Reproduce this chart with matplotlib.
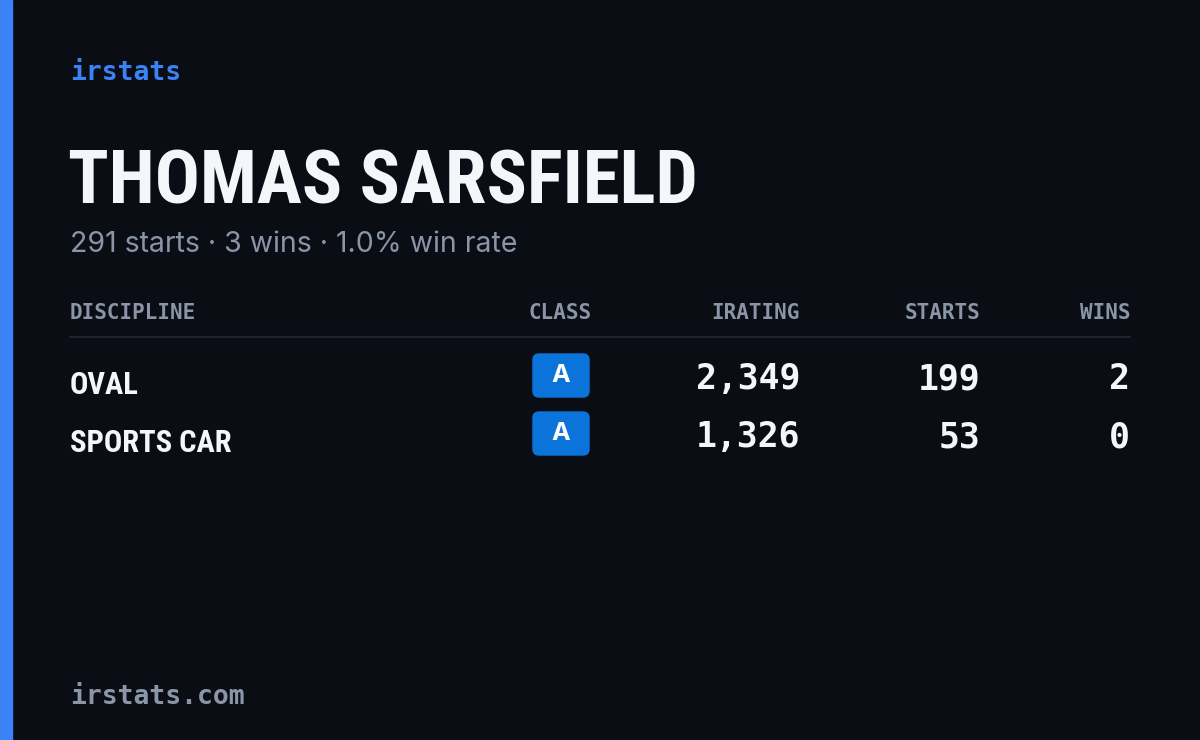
import matplotlib.pyplot as plt
from matplotlib.patches import FancyBboxPatch, Rectangle

driver = "THOMAS SARSFIELD"
total_starts = 291
total_wins = 3
win_rate = 1.0

disciplines = ["OVAL", "SPORTS CAR"]
classes = ["A", "A"]
iratings = [2349, 1326]
starts = [199, 53]
wins = [2, 0]

W, H = 1200, 740
fig = plt.figure(figsize=(12, 7.4), dpi=100)
fig.patch.set_facecolor("#0a0d14")
ax = fig.add_axes([0, 0, 1, 1])
ax.set_xlim(0, W)
ax.set_ylim(H, 0)
ax.axis("off")

ax.add_patch(Rectangle((0, 0), 12, H, color="#3b82f6"))

mono = ["DejaVu Sans Mono"]
narrow = ["Liberation Sans Narrow", "Roboto Condensed", "Roboto"]

ax.text(70, 73, "irstats", color="#3b82f6", fontsize=19, family=mono,
        weight="bold", va="center")
ax.text(68, 184, driver, color="#f5f6fa", fontsize=54, family=narrow,
        weight="bold", va="center")
ax.text(70, 245, f"{total_starts} starts · {total_wins} wins · {win_rate:.1f}% win rate",
        color="#8b95a8", fontsize=20.5, family=["Inter", "DejaVu Sans"], va="center")

hcol = "#8b95a8"
hkw = dict(color=hcol, fontsize=15, family=mono, weight="bold", va="center")
ax.text(70, 313, "DISCIPLINE", **hkw)
ax.text(560, 313, "CLASS", ha="center", **hkw)
ax.text(800, 313, "IRATING", ha="right", **hkw)
ax.text(980, 313, "STARTS", ha="right", **hkw)
ax.text(1130, 313, "WINS", ha="right", **hkw)
ax.plot([70, 1130], [337, 337], color="#1c2230", lw=1.5)

nkw = dict(color="#f5f6fa", fontsize=25, family=mono, weight="bold",
           va="center", ha="right")
for i, d in enumerate(disciplines):
    y = 383 + i * 58
    ax.text(70, y + 2, d, color="#f5f6fa", fontsize=22, family=narrow,
            weight="bold", va="center")
    ax.add_patch(FancyBboxPatch((533, y - 29), 56, 43,
                                boxstyle="round,pad=0,rounding_size=6",
                                color="#0b74da"))
    ax.text(561, y - 8, classes[i], color="white", fontsize=18, weight="bold",
            family=["Inter", "DejaVu Sans"], va="center", ha="center")
    ax.text(800, y - 4, f"{iratings[i]:,}", **nkw)
    ax.text(980, y - 4, f"{starts[i]}", **nkw)
    ax.text(1130, y - 4, f"{wins[i]}", **nkw)

ax.text(70, 697, "irstats.com", color="#8b95a8", fontsize=19, family=mono,
        weight="bold", va="center")

fig.savefig("out.png", dpi=100, facecolor=fig.get_facecolor())
